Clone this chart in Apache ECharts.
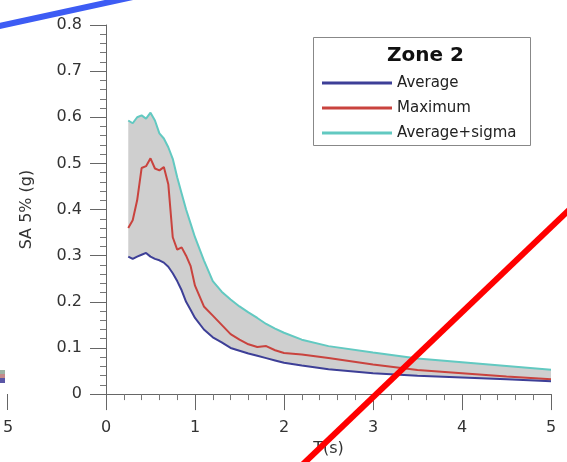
<!DOCTYPE html>
<html>
  <head>
    <meta charset="utf-8" />
    <title>Zone 2 spectra</title>
    <script src="https://cdn.jsdelivr.net/npm/echarts@6/dist/echarts.min.js"></script>
    <style>
      html, body { margin: 0; padding: 0; background: #fff; }
    </style>
  </head>
  <body>
    <div id="main" style="width: 567px; height: 462px"></div>

    <script type="text/javascript">
      // periods T (s)
      var periods = [0.25, 0.3, 0.35, 0.4, 0.45, 0.5, 0.55, 0.6, 0.65, 0.7, 0.75, 0.8, 0.85, 0.9, 0.95, 1.0,
        1.1, 1.2, 1.3, 1.4, 1.5, 1.6, 1.7, 1.8, 1.9, 2.0, 2.2, 2.5, 3.0, 3.5, 4.0, 4.5, 5.0];
      var average = [0.298, 0.293, 0.298, 0.302, 0.306, 0.298, 0.293, 0.29, 0.285, 0.276, 0.262, 0.245, 0.225, 0.2, 0.183, 0.165,
        0.14, 0.123, 0.112, 0.1, 0.094, 0.088, 0.083, 0.078, 0.073, 0.068, 0.062, 0.054, 0.045, 0.04, 0.036, 0.032, 0.028];
      var maximum = [0.36, 0.377, 0.42, 0.49, 0.494, 0.511, 0.489, 0.485, 0.492, 0.455, 0.34, 0.313, 0.318, 0.3, 0.278, 0.235,
        0.19, 0.17, 0.15, 0.13, 0.118, 0.108, 0.102, 0.104, 0.095, 0.089, 0.086, 0.078, 0.064, 0.052, 0.045, 0.038, 0.032];
      var avgSigma = [0.593, 0.587, 0.6, 0.604, 0.597, 0.61, 0.593, 0.565, 0.554, 0.535, 0.51, 0.47, 0.435, 0.4, 0.37, 0.34,
        0.29, 0.245, 0.222, 0.205, 0.19, 0.177, 0.165, 0.152, 0.142, 0.133, 0.118, 0.104, 0.09, 0.077, 0.069, 0.061, 0.053];
      var seriesNames = ["Average", "Maximum", "Average+sigma"];

      function pairs(vals) {
        return periods.map(function (t, i) { return [t, vals[i]]; });
      }

      var font = "DejaVu Sans";
      var myChart = echarts.init(document.getElementById("main"));

      // grey band between Average and Average+sigma, one polygon
      function renderBand(params, api) {
        var pts = [];
        for (var i = 0; i < periods.length; i++) pts.push(api.coord([periods[i], avgSigma[i]]));
        for (var j = periods.length - 1; j >= 0; j--) pts.push(api.coord([periods[j], average[j]]));
        return {
          type: "polygon",
          shape: { points: pts },
          style: { fill: "#cfcfcf" }
        };
      }

      var option = {
        animation: false,
        textStyle: { fontFamily: font },
        grid: { left: 106, right: 16, top: 25, bottom: 67 },
        legend: {
          orient: "vertical",
          left: 317,
          top: 70,
          itemWidth: 70,
          itemHeight: 3,
          itemGap: 9,
          icon: "rect",
          data: seriesNames,
          textStyle: { fontFamily: font, fontSize: 15, color: "#222", lineHeight: 16 }
        },
        xAxis: {
          type: "value",
          min: 0,
          max: 5,
          interval: 1,
          name: "T(s)",
          nameLocation: "middle",
          nameGap: 34,
          nameTextStyle: { fontSize: 16, color: "#333" },
          axisLine: { lineStyle: { color: "#666" } },
          axisTick: { inside: false, length: 16, lineStyle: { color: "#666" } },
          minorTick: { show: true, splitNumber: 5, length: 6, lineStyle: { color: "#777" } },
          axisLabel: { fontSize: 16, color: "#333", margin: 26 },
          splitLine: { show: false }
        },
        yAxis: {
          type: "value",
          min: 0,
          max: 0.8,
          interval: 0.1,
          name: "SA 5% (g)",
          nameLocation: "middle",
          nameGap: 71,
          nameRotate: 90,
          nameTextStyle: { fontSize: 16, color: "#333" },
          axisLine: { show: true, lineStyle: { color: "#666" } },
          axisTick: { show: true, inside: false, length: 16, lineStyle: { color: "#666" } },
          minorTick: { show: true, splitNumber: 5, length: 6, lineStyle: { color: "#777" } },
          axisLabel: { fontSize: 16, color: "#333", margin: 24 },
          splitLine: { show: false }
        },
        series: [
          {
            name: "band",
            type: "custom",
            renderItem: renderBand,
            data: [0],
            silent: true,
            z: 1
          },
          {
            name: "Average+sigma",
            type: "line",
            data: pairs(avgSigma),
            symbol: "none",
            color: "#62c9c1",
            lineStyle: { width: 2, color: "#62c9c1" }
          },
          {
            name: "Maximum",
            type: "line",
            data: pairs(maximum),
            symbol: "none",
            color: "#c9433e",
            lineStyle: { width: 2, color: "#c9433e" }
          },
          {
            name: "Average",
            type: "line",
            data: pairs(average),
            symbol: "none",
            color: "#3d3f97",
            lineStyle: { width: 2, color: "#3d3f97" }
          }
        ],
        graphic: [
          // legend frame and title
          {
            type: "rect",
            z: 3,
            shape: { x: 313.5, y: 37.5, width: 217, height: 108 },
            style: { fill: "#fff", stroke: "#888", lineWidth: 1 }
          },
          {
            type: "text",
            z: 5,
            left: 387,
            top: 46,
            style: { text: "Zone 2", font: "bold 20px " + font, fill: "#111" }
          },
          // pieces of the neighbouring panel at the left edge
          { type: "rect", shape: { x: 0, y: 370, width: 5, height: 4 }, style: { fill: "#9db3a4" } },
          { type: "rect", shape: { x: 0, y: 374, width: 5, height: 4 }, style: { fill: "#c58a8a" } },
          { type: "rect", shape: { x: 0, y: 378, width: 5, height: 5 }, style: { fill: "#5a56a6" } },
          { type: "line", shape: { x1: 7.5, y1: 394, x2: 7.5, y2: 410 }, style: { stroke: "#666", lineWidth: 1 } },
          {
            type: "text",
            left: 3,
            top: 420,
            style: { text: "5", font: "16px " + font, fill: "#333" }
          },
          // strokes drawn over the picture
          {
            type: "line",
            z: 100,
            shape: { x1: -10, y1: 28, x2: 142, y2: -5 },
            style: { stroke: "#3d5cf4", lineWidth: 6 }
          },
          {
            type: "line",
            z: 100,
            shape: { x1: 300, y1: 467, x2: 572, y2: 207 },
            style: { stroke: "#ff0000", lineWidth: 6 }
          }
        ]
      };
      myChart.setOption(option);
    </script>
  </body>
</html>
